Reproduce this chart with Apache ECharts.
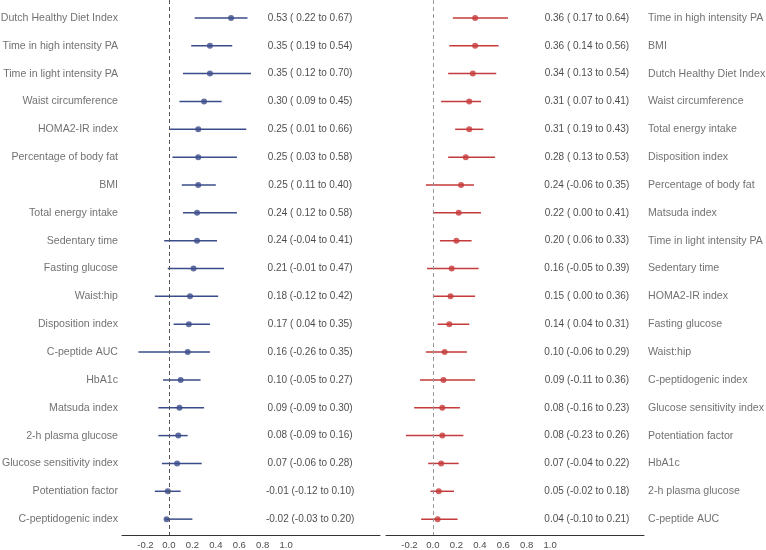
<!DOCTYPE html>
<html>
<head>
<meta charset="utf-8">
<script src="https://cdn.jsdelivr.net/npm/echarts@6/dist/echarts.min.js"></script>
<style>
html,body{margin:0;padding:0;background:#fff;}
#c{width:766px;height:550px;}
</style>
</head>
<body>
<div id="c"></div>
<script>
// ---- Left panel data ----
const labelsL = ["Dutch Healthy Diet Index","Time in high intensity PA","Time in light intensity PA","Waist circumference","HOMA2-IR index","Percentage of body fat","BMI","Total energy intake","Sedentary time","Fasting glucose","Waist:hip","Disposition index","C-peptide AUC","HbA1c","Matsuda index","2-h plasma glucose","Glucose sensitivity index","Potentiation factor","C-peptidogenic index"];
const estL = [0.53,0.35,0.35,0.30,0.25,0.25,0.25,0.24,0.24,0.21,0.18,0.17,0.16,0.10,0.09,0.08,0.07,-0.01,-0.02];
const loL  = [0.22,0.19,0.12,0.09,0.01,0.03,0.11,0.12,-0.04,-0.01,-0.12,0.04,-0.26,-0.05,-0.09,-0.09,-0.06,-0.12,-0.03];
const hiL  = [0.67,0.54,0.70,0.45,0.66,0.58,0.40,0.58,0.41,0.47,0.42,0.35,0.35,0.27,0.30,0.16,0.28,0.10,0.20];

// ---- Right panel data ----
const labelsR = ["Time in high intensity PA","BMI","Dutch Healthy Diet Index","Waist circumference","Total energy intake","Disposition index","Percentage of body fat","Matsuda index","Time in light intensity PA","Sedentary time","HOMA2-IR index","Fasting glucose","Waist:hip","C-peptidogenic index","Glucose sensitivity index","Potentiation factor","HbA1c","2-h plasma glucose","C-peptide AUC"];
const estR = [0.36,0.36,0.34,0.31,0.31,0.28,0.24,0.22,0.20,0.16,0.15,0.14,0.10,0.09,0.08,0.08,0.07,0.05,0.04];
const loR  = [0.17,0.14,0.13,0.07,0.19,0.13,-0.06,0.00,0.06,-0.05,0.00,0.04,-0.06,-0.11,-0.16,-0.23,-0.04,-0.02,-0.10];
const hiR  = [0.64,0.56,0.54,0.41,0.43,0.53,0.35,0.41,0.33,0.39,0.36,0.31,0.29,0.36,0.23,0.26,0.22,0.18,0.21];

const tickLabels = [-0.2,0.0,0.2,0.4,0.6,0.8,1.0];

const FONT = "'Liberation Sans',Arial,sans-serif";
const BLUE = '#3b4c8a';
const RED = '#c53a3a';

function fmt(e,l,h){
  const lo = l < 0 ? l.toFixed(2) : ' ' + l.toFixed(2);
  return e.toFixed(2) + ' (' + lo + ' to ' + h.toFixed(2) + ')';
}

const X_MIN = -0.4, X_MAX = 1.8;
const Y_MIN = -0.644, Y_MAX = 18.57;
const TEXT_X_L = 1.204, TEXT_X_R = 1.313;

function xAxisCfg(gi){
  return {
    type:'value', gridIndex:gi, min:X_MIN, max:X_MAX, interval:0.2,
    axisLine:{show:true, onZero:false, lineStyle:{color:'#333', width:1}},
    axisTick:{show:false}, splitLine:{show:false},
    axisLabel:{
      color:'#4d4d4d', fontFamily:FONT, fontSize:9.5, margin:5,
      formatter:function(v){
        for (const t of tickLabels){ if (Math.abs(v-t) < 1e-6) return t.toFixed(1); }
        return '';
      }
    }
  };
}
function yAxisCfg(gi){
  return {type:'value', gridIndex:gi, min:Y_MIN, max:Y_MAX, inverse:true, show:false,
          axisLine:{show:false, onZero:false}, splitLine:{show:false}, axisTick:{show:false}, axisLabel:{show:false}};
}

function ciSeries(gi, lo, hi, color, dashColor){
  return {
    type:'custom', xAxisIndex:gi, yAxisIndex:gi,
    data: lo.map((l,i)=>[l, hi[i], i]),
    encode:{x:[0,1], y:2},
    renderItem:function(params, api){
      const p1 = api.coord([api.value(0), api.value(2)]);
      const p2 = api.coord([api.value(1), api.value(2)]);
      return {type:'line', shape:{x1:p1[0], y1:p1[1], x2:p2[0], y2:p2[1]},
              style:{stroke:color, lineWidth:1.5}};
    },
    silent:true, z:2,
    markLine:{
      silent:true, symbol:['none','none'], label:{show:false},
      lineStyle:{type:[4,3], color:dashColor, width:1},
      data:[{xAxis:0}]
    }
  };
}
function pointSeries(gi, est, color){
  return {type:'scatter', xAxisIndex:gi, yAxisIndex:gi, symbol:'circle', symbolSize:6,
          itemStyle:{color:color}, data: est.map((e,i)=>[e,i]), z:3, silent:true, clip:false};
}
function textSeries(gi, x, texts, pos, color, size, align){
  return {type:'scatter', xAxisIndex:gi, yAxisIndex:gi, symbolSize:0, silent:true, clip:false,
          data: texts.map((t,i)=>({value:[x,i], name:t})),
          label:{show:true, position:pos, distance:pos==='inside'?0:4,
                 formatter:p=>p.name, color:color, fontFamily:FONT, fontSize:size, align:align, verticalAlign:'middle'}};
}

const chart = echarts.init(document.getElementById('c'), null, {renderer:'canvas'});
chart.setOption({
  backgroundColor:'#fff',
  animation:false,
  grid:[
    {left:122, top:0, width:258, height:537},
    {left:386, top:0, width:258, height:537}
  ],
  xAxis:[xAxisCfg(0), xAxisCfg(1)],
  yAxis:[yAxisCfg(0), yAxisCfg(1)],
  series:[
    ciSeries(0, loL, hiL, BLUE, '#555'),
    pointSeries(0, estL, BLUE),
    textSeries(0, X_MIN, labelsL, 'left', '#4d4d4d', 10.6, 'right'),
    textSeries(0, TEXT_X_L, estL.map((e,i)=>fmt(e,loL[i],hiL[i])), 'inside', '#1a1a1a', 10, 'center'),
    ciSeries(1, loR, hiR, RED, '#999'),
    pointSeries(1, estR, RED),
    textSeries(1, X_MAX, labelsR, 'right', '#4d4d4d', 10.6, 'left'),
    textSeries(1, TEXT_X_R, estR.map((e,i)=>fmt(e,loR[i],hiR[i])), 'inside', '#1a1a1a', 10, 'center')
  ]
});
</script>
</body>
</html>
